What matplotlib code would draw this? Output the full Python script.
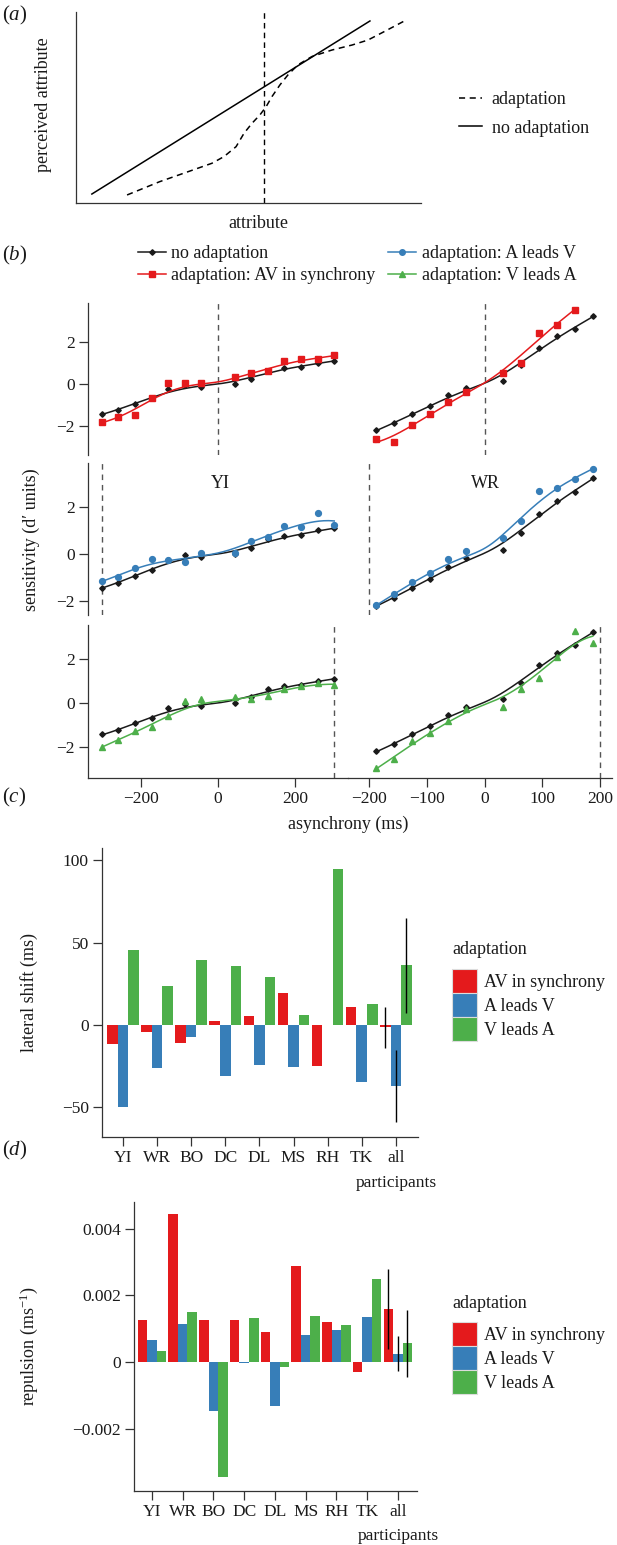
import numpy as np
import matplotlib
matplotlib.use('Agg')
import matplotlib.pyplot as plt
from matplotlib.lines import Line2D
from matplotlib.patches import Patch
from matplotlib.transforms import blended_transform_factory

plt.rcParams['font.family'] = ['Liberation Serif', 'DejaVu Serif']
plt.rcParams['mathtext.fontset'] = 'custom'
plt.rcParams['mathtext.rm'] = 'Liberation Serif'
plt.rcParams['mathtext.it'] = 'Liberation Serif:italic'
plt.rcParams['axes.unicode_minus'] = True

# ---------------- data ----------------
# panel (a): schematic
a_line_x = [0.046, 0.852]
a_line_y = [0.047, 0.953]
a_adapt_x = [0.148, 0.243, 0.325, 0.394, 0.429, 0.464, 0.487, 0.510, 0.533, 0.551,
             0.568, 0.591, 0.614, 0.643, 0.684, 0.742, 0.800, 0.846, 0.893, 0.957]
a_adapt_y = [0.042, 0.112, 0.164, 0.208, 0.243, 0.295, 0.365, 0.417, 0.461, 0.504,
             0.557, 0.618, 0.670, 0.723, 0.767, 0.801, 0.827, 0.853, 0.897, 0.958]
a_adaptor = 0.545

# panel (b): psychometric sensitivity data
x_YI = [-300, -257, -214, -171, -129, -86, -43, 43, 86, 129, 171, 214, 257, 300]
x_WR = [-187.5, -156.25, -125, -93.75, -62.5, -31.25, 31.25, 62.5, 93.75, 125, 156.25, 187.5]

YI_none = [-1.43, -1.25, -0.93, -0.68, -0.24, -0.06, -0.13, -0.01, 0.26, 0.62, 0.75, 0.82, 1.00, 1.09]
YI_sync = [-1.81, -1.57, -1.50, -0.68, 0.03, 0.03, 0.03, 0.31, 0.54, 0.63, 1.09, 1.17, 1.18, 1.37]
YI_AleadV = [-1.14, -0.97, -0.61, -0.20, -0.26, -0.33, 0.03, 0.06, 0.57, 0.74, 1.20, 1.13, 1.74, 1.24]
YI_VleadA = [-2.00, -1.70, -1.26, -1.11, -0.61, 0.08, 0.18, 0.27, 0.20, 0.33, 0.64, 0.79, 0.91, 0.80]

WR_none = [-2.20, -1.88, -1.43, -1.05, -0.54, -0.19, 0.16, 0.89, 1.72, 2.27, 2.64, 3.22]
WR_sync = [-2.61, -2.77, -1.94, -1.42, -0.87, -0.39, 0.54, 1.01, 2.43, 2.79, 3.54, np.nan]
WR_AleadV = [-2.19, -1.69, -1.21, -0.79, -0.23, 0.13, 0.70, 1.39, 2.67, 2.81, 3.21, 3.63]
WR_VleadA = [-2.95, -2.55, -1.74, -1.36, -0.80, -0.27, -0.18, 0.64, 1.14, 2.08, 3.26, 2.73]

adaptor_YI = [0, -300, 300]
adaptor_WR = [0, -200, 200]
b_xticks_YI = [-200, 0, 200]
b_xticks_WR = [-200, -100, 0, 100, 200]
b_yticks = [-2, 0, 2]

# panels (c), (d)
participants = ['YI', 'WR', 'BO', 'DC', 'DL', 'MS', 'RH', 'TK', 'all participants']
shift_sync = [-11.7, -4.0, -11.1, 2.4, 5.5, 19.2, -24.9, 11.1, -1.5]
shift_AleadV = [-49.6, -25.9, -7.3, -31.0, -24.1, -25.7, 0.0, -34.6, -37.0]
shift_VleadA = [45.5, 23.5, 39.7, 35.8, 29.1, 6.3, 94.7, 12.8, 36.1]
shift_err_all = [12.5, 22.0, 29.0]
c_yticks = [-50, 0, 50, 100]

rep_sync = [0.00125, 0.00444, 0.00125, 0.00127, 0.00089, 0.00287, 0.00120, -0.00031, 0.00160]
rep_AleadV = [0.00065, 0.00115, -0.00146, -0.00002, -0.00133, 0.00080, 0.00095, 0.00136, 0.00025]
rep_VleadA = [0.00032, 0.00150, -0.00345, 0.00131, -0.00015, 0.00139, 0.00112, 0.00250, 0.00056]
rep_err_all = [0.0012, 0.00052, 0.0010]
d_yticks = [-0.002, 0, 0.002, 0.004]

cond_labels = ['AV in synchrony', 'A leads V', 'V leads A']

# ---------------- style ----------------
W, H = 617, 1545
FS = 13
TFS = 12.5
TXT = '#1a1a1a'
SPINE = '#333333'
C_NONE = '#1a1a1a'
C_SYNC = '#E41A1C'
C_AV = '#377EB8'
C_VA = '#4DAF4A'
cond_colors = [C_SYNC, C_AV, C_VA]

fig = plt.figure(figsize=(W / 100, H / 100), dpi=100)
fig.patch.set_facecolor('white')


def add_ax(x0, y0, x1, y1):
    return fig.add_axes([x0 / W, 1 - y1 / H, (x1 - x0) / W, (y1 - y0) / H])


def ftext(x, y, s, **kw):
    kw.setdefault('fontsize', FS)
    kw.setdefault('color', TXT)
    return fig.text(x / W, 1 - y / H, s, **kw)


def style_ax(ax, left=True, bottom=True):
    for s in ['top', 'right']:
        ax.spines[s].set_visible(False)
    ax.spines['left'].set_visible(left)
    ax.spines['bottom'].set_visible(bottom)
    for s in ['left', 'bottom']:
        ax.spines[s].set_color(SPINE)
        ax.spines[s].set_linewidth(0.9)
    ax.tick_params(direction='out', length=6.5, width=0.9, color=SPINE,
                   labelcolor=TXT, labelsize=TFS, pad=3)
    ax.patch.set_alpha(0)


def mfmt(v, dec=0):
    if v == 0:
        return '0'
    s = f'{v:.{dec}f}'
    return s.replace('-', '\u2212')


def smooth_fit(x, y, bw, n=200):
    """Local-linear (Gaussian kernel) smoother, anchored at the (0, 0) reference point."""
    x = np.asarray(x, float)
    y = np.asarray(y, float)
    m = ~np.isnan(y)
    x, y = x[m], y[m]
    lo, hi = x.min(), x.max()
    x = np.append(x, 0.0)
    y = np.append(y, 0.0)
    w0 = np.ones_like(x)
    w0[-1] = 3.0
    xx = np.linspace(lo, hi, n)
    yy = np.empty_like(xx)
    for i, x0 in enumerate(xx):
        w = w0 * np.exp(-0.5 * ((x - x0) / bw) ** 2)
        X = np.column_stack([np.ones_like(x), x - x0])
        WX = X * w[:, None]
        beta = np.linalg.solve(X.T @ WX, WX.T @ y)
        yy[i] = beta[0]
    return xx, yy


# ---------------- panel (a) ----------------
axa = add_ax(76, 12, 421, 203)
style_ax(axa)
axa.set_xlim(0, 1)
axa.set_ylim(0, 1)
axa.set_xticks([])
axa.set_yticks([])
axa.plot(a_line_x, a_line_y, color='black', lw=1.1)
axa.plot(a_adapt_x, a_adapt_y, color='black', lw=1.1, ls=(0, (4, 3)))
axa.axvline(a_adaptor, color='black', lw=1.0, ls=(0, (4, 3)))
ftext(258, 223, 'attribute', ha='center', va='center')
ftext(43, 105, 'perceived attribute', ha='center', va='center', rotation=90)
ftext(2, 15, '$(a)$', ha='left', va='center', fontsize=15)
ha = [Line2D([], [], color='black', lw=1.1, ls=(0, (4, 3))),
      Line2D([], [], color='black', lw=1.1)]
fig.legend(ha, ['adaptation', 'no adaptation'], loc='upper left',
           bbox_to_anchor=(459 / W, 1 - 91 / H), frameon=False, fontsize=FS,
           handlelength=1.3, handletextpad=0.5, labelspacing=0.65,
           borderpad=0, borderaxespad=0, labelcolor=TXT)

# ---------------- panel (b) ----------------
ftext(2, 255, '$(b)$', ha='left', va='center', fontsize=15)
hb = [Line2D([], [], color=C_NONE, lw=1.1, marker='D', ms=2.8),
      Line2D([], [], color=C_SYNC, lw=1.1, marker='s', ms=4.5),
      Line2D([], [], color=C_AV, lw=1.1, marker='o', ms=4),
      Line2D([], [], color=C_VA, lw=1.1, marker='^', ms=4.5)]
fig.legend(hb, ['no adaptation', 'adaptation: AV in synchrony',
                'adaptation: A leads V', 'adaptation: V leads A'],
           loc='upper left', ncol=2, bbox_to_anchor=(138 / W, 1 - 245 / H),
           frameon=False, fontsize=FS, handlelength=1.55, handletextpad=0.3,
           labelspacing=0.3, columnspacing=0.7, borderpad=0, borderaxespad=0,
           labelcolor=TXT)

rows = [(303, 455, (-3.381, 3.857)), (463, 615, (-2.596, 3.872)), (625, 778, (-3.409, 3.545))]
cols = [(88, 348, (-335.5, 335.5)), (348, 612, (-236.4, 220.8))]
part_x = [x_YI, x_WR]
part_bw = [62.0, 45.0]
part_none = [YI_none, WR_none]
part_adapt = [[YI_sync, YI_AleadV, YI_VleadA], [WR_sync, WR_AleadV, WR_VleadA]]
part_adaptor = [adaptor_YI, adaptor_WR]
part_xticks = [b_xticks_YI, b_xticks_WR]
row_styles = [(C_SYNC, 's', 4.5), (C_AV, 'o', 4.2), (C_VA, '^', 5.0)]

for r, (y0, y1, ylim) in enumerate(rows):
    for c, (x0, x1, xlim) in enumerate(cols):
        ax = add_ax(x0, y0, x1, y1)
        style_ax(ax, left=(c == 0), bottom=(r == 2))
        ax.set_xlim(*xlim)
        ax.set_ylim(*ylim)
        if c == 0:
            ax.set_yticks(b_yticks, labels=[mfmt(v) for v in b_yticks])
        else:
            ax.set_yticks([])
        if r == 2:
            ax.set_xticks(part_xticks[c], labels=[mfmt(v) for v in part_xticks[c]])
        else:
            ax.set_xticks([])
        ax.axvline(part_adaptor[c][r], color='#555555', lw=1.0, ls=(0, (4, 3.5)))
        xs = part_x[c]
        fx, fy = smooth_fit(xs, part_none[c], part_bw[c])
        ax.plot(fx, fy, color=C_NONE, lw=1.1)
        ax.plot(xs, part_none[c], ls='none', marker='D', ms=2.8, color=C_NONE)
        col, mk, ms = row_styles[r]
        ys = part_adapt[c][r]
        fx, fy = smooth_fit(xs, ys, part_bw[c])
        ax.plot(fx, fy, color=col, lw=1.1)
        ax.plot(xs, ys, ls='none', marker=mk, ms=ms, color=col)

ftext(220, 483, 'YI', ha='center', va='center')
ftext(485, 483, 'WR', ha='center', va='center')
ftext(348, 824, 'asynchrony (ms)', ha='center', va='center')
ftext(31, 540, 'sensitivity (d\u2032 units)', ha='center', va='center', rotation=90)


# ---------------- panels (c) and (d) ----------------
def bar_panel(box, xlim, ylim, vals, errs, yticks, dec, ylabel, ylabel_xy,
              panel_lab, panel_xy, leg_title_y, second_line_y):
    ax = add_ax(*box)
    style_ax(ax)
    xpos = np.arange(len(participants))
    w = 0.31
    for i, (v, col) in enumerate(zip(vals, cond_colors)):
        ax.bar(xpos + (i - 1) * w, v, w, color=col, edgecolor='none')
    for i, (v, e) in enumerate(zip(vals, errs)):
        ax.errorbar(xpos[-1] + (i - 1) * w, v[-1], yerr=e, fmt='none',
                    ecolor='black', elinewidth=1.0, capsize=0, zorder=5)
    ax.set_xlim(*xlim)
    ax.set_ylim(*ylim)
    first = [p.split(' ')[0] for p in participants]
    ax.set_xticks(xpos, labels=first)
    ax.tick_params(axis='x', pad=3)
    # second word of the pooled label sits on its own line under its tick
    rest = participants[-1].split(' ', 1)[1]
    tr = blended_transform_factory(ax.transData, fig.transFigure)
    ax.text(xpos[-1], 1 - second_line_y / H, rest, transform=tr, ha='center',
            va='center', fontsize=TFS, color=TXT)
    ax.set_yticks(yticks, labels=[mfmt(v, dec) for v in yticks])
    ftext(ylabel_xy[0], ylabel_xy[1], ylabel, ha='center', va='center', rotation=90)
    ftext(panel_xy[0], panel_xy[1], panel_lab, ha='left', va='center', fontsize=15)
    ftext(452, leg_title_y, 'adaptation', ha='left', va='center')
    hp = [Patch(facecolor=col, edgecolor='#dcdcdc', lw=0.8) for col in cond_colors]
    fig.legend(hp, cond_labels, loc='upper left',
               bbox_to_anchor=(452 / W, 1 - (leg_title_y + 19) / H),
               frameon=False, fontsize=FS, handlelength=1.39, handleheight=1.67,
               handletextpad=0.4, labelspacing=0.0, borderpad=0, borderaxespad=0,
               labelcolor=TXT)
    return ax


bar_panel((102, 848, 418, 1137), (-0.616, 8.65), (-67.9, 107.3),
          [shift_sync, shift_AleadV, shift_VleadA], shift_err_all, c_yticks, 0,
          'lateral shift (ms)', (29, 992), '$(c)$', (2, 797), 950, 1183)

bar_panel((134, 1202, 417, 1491), (-0.585, 8.62), (-0.00387, 0.0048),
          [rep_sync, rep_AleadV, rep_VleadA], rep_err_all, d_yticks, 3,
          'repulsion (ms$^{-1}$)', (29, 1346), '$(d)$', (2, 1150), 1303, 1536)

fig.savefig('out.png', dpi=100, facecolor='white')
